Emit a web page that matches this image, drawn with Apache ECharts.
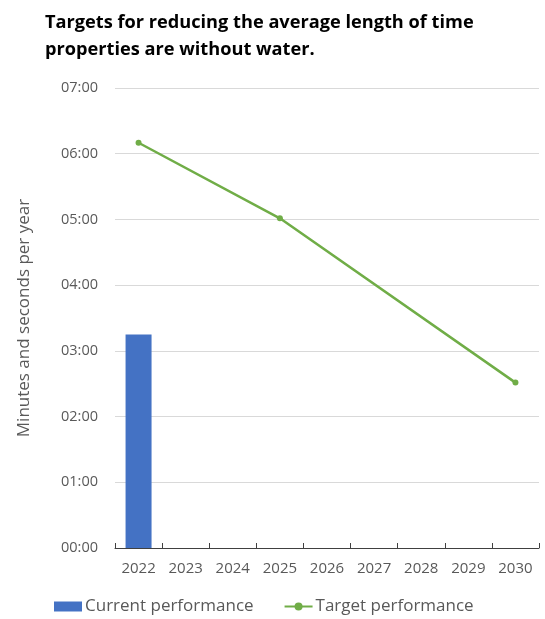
<!DOCTYPE html>
<html>
<head>
<meta charset="utf-8">
<script src="https://cdn.jsdelivr.net/npm/echarts@6/dist/echarts.min.js"></script>
<style>
  html, body { margin: 0; padding: 0; background: #fff; }
  #chart { width: 545px; height: 619px; }
</style>
</head>
<body>
<div id="chart"></div>
<script>
// Years on the category axis
const years = ['2022', '2023', '2024', '2025', '2026', '2027', '2028', '2029', '2030'];
// Current performance, seconds per year (only 2022 reported)
const currentPerformance = [195, null, null, null, null, null, null, null, null];
// Target performance, seconds per year
const targetPerformance = [370, null, null, 301, null, null, null, null, 151];

const titleLines = ['Targets for reducing the average length of time', 'properties are without water.'];
const yAxisTitle = 'Minutes and seconds per year';
const seriesNames = ['Current performance', 'Target performance'];

function mmss(v) {
  const m = Math.floor(v / 60);
  const s = Math.round(v - m * 60);
  return String(m).padStart(2, '0') + ':' + String(s).padStart(2, '0');
}

const chart = echarts.init(document.getElementById('chart'));
const textColor = '#595959';
const font = 'Open Sans';

chart.setOption({
  animation: false,
  title: {
    text: titleLines.join('\n'),
    left: 40,
    top: 4,
    textStyle: { fontFamily: font, fontWeight: 'bold', fontSize: 18.2, color: '#000', lineHeight: 27 }
  },
  legend: {
    bottom: -1,
    left: 49,
    itemWidth: 28,
    itemHeight: 10,
    itemGap: 30,
    textStyle: { fontFamily: font, fontSize: 17, color: textColor, padding: [0, 0, 0, -2] },
    data: [
      { name: seriesNames[0], icon: 'rect' },
      { name: seriesNames[1] }
    ]
  },
  grid: { left: 115, right: 6, top: 88, bottom: 71 },
  xAxis: {
    type: 'category',
    data: years,
    boundaryGap: true,
    axisLine: { lineStyle: { color: '#404040', width: 1 } },
    axisTick: { show: true, inside: true, length: 5, interval: 0, lineStyle: { color: '#404040' } },
    axisLabel: { fontFamily: font, fontSize: 15, color: textColor, margin: 13 }
  },
  yAxis: {
    type: 'value',
    min: 0,
    max: 420,
    interval: 60,
    name: yAxisTitle,
    nameLocation: 'middle',
    nameGap: 82,
    nameTextStyle: { fontFamily: font, fontSize: 17, color: textColor },
    axisLine: { show: false },
    axisTick: { show: false },
    axisLabel: { fontFamily: font, fontSize: 14.5, color: textColor, margin: 17, formatter: mmss },
    splitLine: { lineStyle: { color: '#d9d9d9', width: 1 } }
  },
  series: [
    {
      name: seriesNames[0],
      type: 'bar',
      data: currentPerformance,
      barWidth: 26,
      itemStyle: { color: '#4472c4' }
    },
    {
      name: seriesNames[1],
      type: 'line',
      data: targetPerformance,
      connectNulls: true,
      symbol: 'circle',
      symbolSize: 6,
      lineStyle: { color: '#70ad47', width: 2.5 },
      itemStyle: { color: '#70ad47' }
    }
  ]
});
</script>
</body>
</html>
